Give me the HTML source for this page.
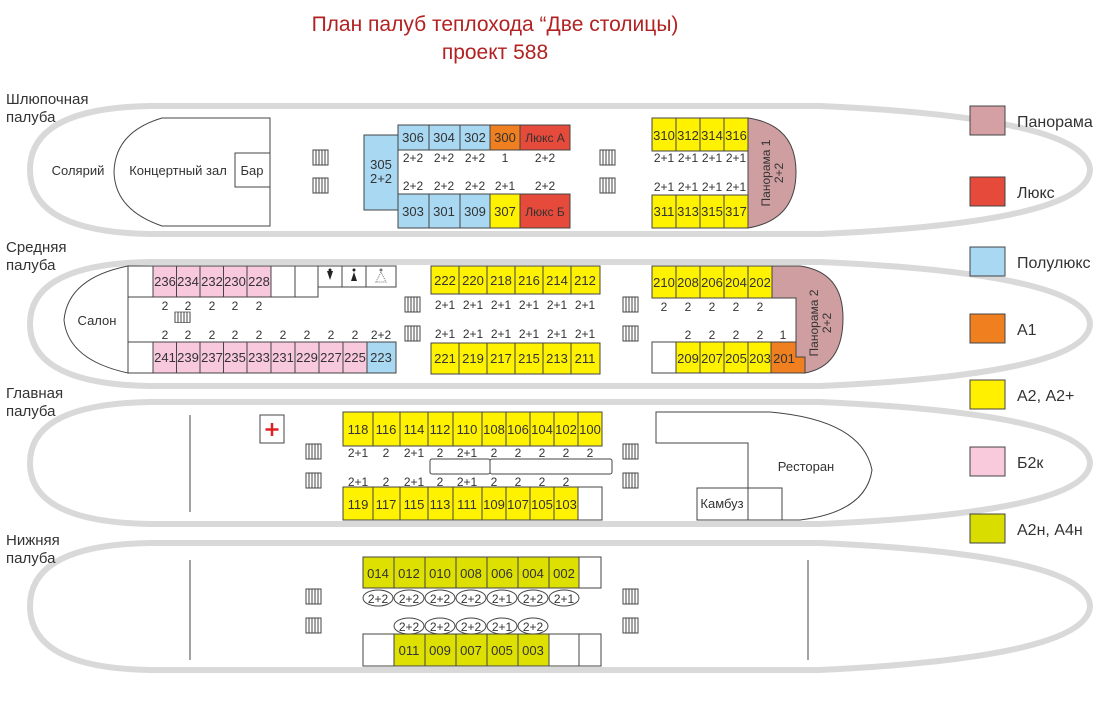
<!DOCTYPE html>
<html><head><meta charset="utf-8"><style>
html,body{margin:0;padding:0;background:#fff}
svg{display:block}
text{font-family:"Liberation Sans",sans-serif;fill:#333}
.c{font-size:13px;text-anchor:middle}
.s{font-size:12px;text-anchor:middle}
.l{font-size:15px;fill:#333}
.g{font-size:16px;fill:#333}
</style></head><body>
<svg width="1111" height="706" viewBox="0 0 1111 706" xmlns="http://www.w3.org/2000/svg">
<defs>
<g id="st"><rect x="0" y="0" width="15" height="15" fill="#fff" stroke="#444" stroke-width="1"/><path d="M3 0V15M6 0V15M9 0V15M12 0V15" stroke="#444" stroke-width="1"/></g>
</defs>
<text x="495" y="31" style="font-size:21px;fill:#b22222;text-anchor:middle">План палуб теплохода “Две столицы)</text>
<text x="495" y="59" style="font-size:21px;fill:#b22222;text-anchor:middle">проект 588</text>

<!-- hulls -->
<g fill="#fff" stroke="#d9d9d9" stroke-width="6">
<path d="M150 106 L820 106 Q1088 118 1090 170 Q1088 222 820 234 L150 234 Q30 232 30 170 Q30 108 150 106Z"/>
<path d="M150 262 L820 262 Q1088 274 1090 324 Q1088 374 820 386 L150 386 Q30 384 30 324 Q30 264 150 262Z"/>
<path d="M150 402 L820 402 Q1088 414 1090 463 Q1088 512 820 524 L150 524 Q30 522 30 463 Q30 404 150 402Z"/>
<path d="M150 543 L820 543 Q1088 555 1090 606 Q1088 657 820 670 L150 670 Q30 668 30 606 Q30 545 150 543Z"/>
</g>
<text class="l" x="6" y="104">Шлюпочная</text><text class="l" x="6" y="122">палуба</text>
<text class="l" x="6" y="252">Средняя</text><text class="l" x="6" y="270">палуба</text>
<text class="l" x="6" y="398">Главная</text><text class="l" x="6" y="416">палуба</text>
<text class="l" x="6" y="545">Нижняя</text><text class="l" x="6" y="563">палуба</text>

<g stroke="#444" stroke-width="1">
<!-- DECK 1 -->
<path d="M162 118 L270 118 L270 226 L162 226 Q115 210 114 172 Q115 132 162 118Z" fill="#fff"/>
<rect x="235" y="153" width="35" height="34" fill="#fff"/>
<rect x="364" y="135" width="34" height="75" fill="#a9d8f2"/>
<rect x="398" y="125" width="31" height="25" fill="#a9d8f2"/>
<rect x="429" y="125" width="31" height="25" fill="#a9d8f2"/>
<rect x="460" y="125" width="30" height="25" fill="#a9d8f2"/>
<rect x="490" y="125" width="30" height="25" fill="#f07f1f"/>
<rect x="520" y="125" width="50" height="25" fill="#e54a3a"/>
<rect x="398" y="194" width="31" height="34" fill="#a9d8f2"/>
<rect x="429" y="194" width="31" height="34" fill="#a9d8f2"/>
<rect x="460" y="194" width="30" height="34" fill="#a9d8f2"/>
<rect x="490" y="194" width="30" height="34" fill="#fff200"/>
<rect x="520" y="194" width="50" height="34" fill="#e54a3a"/>
<path d="M748 118 Q796 125 796 172 Q796 220 748 228Z" fill="#cf9ea0"/>
<rect x="652" y="118" width="24" height="33" fill="#fff200"/>
<rect x="676" y="118" width="24" height="33" fill="#fff200"/>
<rect x="700" y="118" width="24" height="33" fill="#fff200"/>
<rect x="724" y="118" width="24" height="33" fill="#fff200"/>
<rect x="652" y="195" width="24" height="33" fill="#fff200"/>
<rect x="676" y="195" width="24" height="33" fill="#fff200"/>
<rect x="700" y="195" width="24" height="33" fill="#fff200"/>
<rect x="724" y="195" width="24" height="33" fill="#fff200"/>

<!-- DECK 2 -->
<path d="M128 266 L128 373 Q68 360 64 320 Q68 278 128 266Z" fill="#fff"/>
<rect x="128" y="266" width="25" height="31" fill="#fff"/>
<rect x="153" y="266" width="23.5" height="31" fill="#f8c8dc"/>
<rect x="176.5" y="266" width="23.5" height="31" fill="#f8c8dc"/>
<rect x="200" y="266" width="23.5" height="31" fill="#f8c8dc"/>
<rect x="223.5" y="266" width="23.5" height="31" fill="#f8c8dc"/>
<rect x="247" y="266" width="24" height="31" fill="#f8c8dc"/>
<rect x="271" y="266" width="24" height="31" fill="#fff"/>
<rect x="295" y="266" width="23" height="31" fill="#fff"/>
<rect x="318" y="266" width="24" height="21" fill="#fff"/>
<rect x="342" y="266" width="24" height="21" fill="#fff"/>
<rect x="366" y="266" width="30" height="21" fill="#fff"/>
<rect x="128" y="342" width="25" height="31" fill="#fff"/>
<rect x="153" y="342" width="23.5" height="31" fill="#f8c8dc"/>
<rect x="176.5" y="342" width="23.5" height="31" fill="#f8c8dc"/>
<rect x="200" y="342" width="23.5" height="31" fill="#f8c8dc"/>
<rect x="223.5" y="342" width="23.5" height="31" fill="#f8c8dc"/>
<rect x="247" y="342" width="24" height="31" fill="#f8c8dc"/>
<rect x="271" y="342" width="24" height="31" fill="#f8c8dc"/>
<rect x="295" y="342" width="24" height="31" fill="#f8c8dc"/>
<rect x="319" y="342" width="24" height="31" fill="#f8c8dc"/>
<rect x="343" y="342" width="24" height="31" fill="#f8c8dc"/>
<rect x="367" y="342" width="29" height="31" fill="#a9d8f2"/>
<rect x="431" y="266" width="28" height="28" fill="#fff200"/>
<rect x="459" y="266" width="28" height="28" fill="#fff200"/>
<rect x="487" y="266" width="28" height="28" fill="#fff200"/>
<rect x="515" y="266" width="28" height="28" fill="#fff200"/>
<rect x="543" y="266" width="28" height="28" fill="#fff200"/>
<rect x="571" y="266" width="29" height="28" fill="#fff200"/>
<rect x="431" y="343" width="28" height="31" fill="#fff200"/>
<rect x="459" y="343" width="28" height="31" fill="#fff200"/>
<rect x="487" y="343" width="28" height="31" fill="#fff200"/>
<rect x="515" y="343" width="28" height="31" fill="#fff200"/>
<rect x="543" y="343" width="28" height="31" fill="#fff200"/>
<rect x="571" y="343" width="29" height="31" fill="#fff200"/>
<path d="M772 266 L800 266 Q843 272 843 318 Q843 366 805 373 L805 357 L796 357 L796 298 L772 298Z" fill="#cf9ea0"/>
<path d="M771 342 L796 342 L796 357 L805 357 L805 373 L771 373Z" fill="#f07f1f"/>
<rect x="652" y="266" width="24" height="32" fill="#fff200"/>
<rect x="676" y="266" width="24" height="32" fill="#fff200"/>
<rect x="700" y="266" width="24" height="32" fill="#fff200"/>
<rect x="724" y="266" width="24" height="32" fill="#fff200"/>
<rect x="748" y="266" width="24" height="32" fill="#fff200"/>
<rect x="652" y="342" width="24" height="31" fill="#fff"/>
<rect x="676" y="342" width="24" height="31" fill="#fff200"/>
<rect x="700" y="342" width="24" height="31" fill="#fff200"/>
<rect x="724" y="342" width="24" height="31" fill="#fff200"/>
<rect x="748" y="342" width="23" height="31" fill="#fff200"/>

<!-- DECK 3 -->
<path d="M190 415V512" fill="none"/>
<rect x="260" y="415" width="24" height="28" fill="#fff"/>
<rect x="343" y="412" width="30" height="34" fill="#fff200"/>
<rect x="373" y="412" width="27" height="34" fill="#fff200"/>
<rect x="400" y="412" width="28" height="34" fill="#fff200"/>
<rect x="428" y="412" width="25" height="34" fill="#fff200"/>
<rect x="453" y="412" width="29" height="34" fill="#fff200"/>
<rect x="482" y="412" width="24" height="34" fill="#fff200"/>
<rect x="506" y="412" width="24" height="34" fill="#fff200"/>
<rect x="530" y="412" width="24" height="34" fill="#fff200"/>
<rect x="554" y="412" width="24" height="34" fill="#fff200"/>
<rect x="578" y="412" width="24" height="34" fill="#fff200"/>
<rect x="430" y="459" width="60" height="15" rx="2" fill="#fff"/>
<rect x="490" y="459" width="122" height="15" rx="2" fill="#fff"/>
<rect x="343" y="487" width="30" height="33" fill="#fff200"/>
<rect x="373" y="487" width="27" height="33" fill="#fff200"/>
<rect x="400" y="487" width="28" height="33" fill="#fff200"/>
<rect x="428" y="487" width="25" height="33" fill="#fff200"/>
<rect x="453" y="487" width="29" height="33" fill="#fff200"/>
<rect x="482" y="487" width="24" height="33" fill="#fff200"/>
<rect x="506" y="487" width="24" height="33" fill="#fff200"/>
<rect x="530" y="487" width="24" height="33" fill="#fff200"/>
<rect x="554" y="487" width="24" height="33" fill="#fff200"/>
<rect x="578" y="487" width="24" height="33" fill="#fff"/>
<path d="M656 412 L770 412 Q862 420 872 470 Q866 512 800 520 L748 520 L748 443 L656 443Z" fill="#fff"/>
<rect x="697" y="488" width="51" height="32" fill="#fff"/>
<rect x="748" y="488" width="34" height="32" fill="#fff"/>

<!-- DECK 4 -->
<path d="M190 560V660M808 560V660" fill="none"/>
<rect x="363" y="557" width="31" height="31" fill="#dde000"/>
<rect x="394" y="557" width="31" height="31" fill="#dde000"/>
<rect x="425" y="557" width="31" height="31" fill="#dde000"/>
<rect x="456" y="557" width="31" height="31" fill="#dde000"/>
<rect x="487" y="557" width="31" height="31" fill="#dde000"/>
<rect x="518" y="557" width="31" height="31" fill="#dde000"/>
<rect x="549" y="557" width="30" height="31" fill="#dde000"/>
<rect x="579" y="557" width="22" height="31" fill="#fff"/>
<rect x="363" y="634" width="31" height="32" fill="#fff"/>
<rect x="394" y="634" width="31" height="32" fill="#dde000"/>
<rect x="425" y="634" width="31" height="32" fill="#dde000"/>
<rect x="456" y="634" width="31" height="32" fill="#dde000"/>
<rect x="487" y="634" width="31" height="32" fill="#dde000"/>
<rect x="518" y="634" width="31" height="32" fill="#dde000"/>
<rect x="549" y="634" width="30" height="32" fill="#fff"/>
<rect x="579" y="634" width="22" height="32" fill="#fff"/>
<g fill="none">
<ellipse cx="378" cy="598" rx="15" ry="8"/><ellipse cx="409" cy="598" rx="15" ry="8"/><ellipse cx="440" cy="598" rx="15" ry="8"/><ellipse cx="471" cy="598" rx="15" ry="8"/><ellipse cx="502" cy="598" rx="15" ry="8"/><ellipse cx="533" cy="598" rx="15" ry="8"/><ellipse cx="564" cy="598" rx="15" ry="8"/>
<ellipse cx="409" cy="626" rx="15" ry="8"/><ellipse cx="440" cy="626" rx="15" ry="8"/><ellipse cx="471" cy="626" rx="15" ry="8"/><ellipse cx="502" cy="626" rx="15" ry="8"/><ellipse cx="533" cy="626" rx="15" ry="8"/>
</g>

<!-- legend -->
<rect x="970" y="106" width="35" height="29" fill="#d4a0a4"/>
<rect x="970" y="177" width="35" height="29" fill="#e54a3a"/>
<rect x="970" y="247" width="35" height="29" fill="#a9d8f2"/>
<rect x="970" y="314" width="35" height="29" fill="#f07f1f"/>
<rect x="970" y="380" width="35" height="29" fill="#fff000"/>
<rect x="970" y="447" width="35" height="29" fill="#f9c9dc"/>
<rect x="970" y="514" width="35" height="29" fill="#d9dd00"/>
</g>

<!-- stairs -->
<use href="#st" x="313" y="150"/><use href="#st" x="313" y="178"/>
<use href="#st" x="600" y="150"/><use href="#st" x="600" y="178"/>
<use href="#st" x="405" y="297"/><use href="#st" x="405" y="326"/>
<use href="#st" x="623" y="297"/><use href="#st" x="623" y="326"/>
<g transform="translate(175 312) scale(1 0.7)"><use href="#st"/></g>
<use href="#st" x="306" y="444"/><use href="#st" x="306" y="473"/>
<use href="#st" x="623" y="444"/><use href="#st" x="623" y="473"/>
<use href="#st" x="306" y="589"/><use href="#st" x="306" y="618"/>
<use href="#st" x="623" y="589"/><use href="#st" x="623" y="618"/>

<!-- cross & wc icons -->
<path d="M272 423V436M265.5 429.5H278.5" stroke="#e02020" stroke-width="2.5"/>
<path d="M327 271h6l-3 9z" fill="#222"/><circle cx="330" cy="270" r="1.5" fill="#222"/>
<path d="M351 281l3-9 3 9z" fill="#222"/><circle cx="354" cy="270" r="1.5" fill="#222"/>
<path d="M376 282l5-10 5 10z" fill="none" stroke="#777" stroke-dasharray="1 1"/><circle cx="381" cy="270" r="1.5" fill="#777"/>

<!-- deck 1 text -->
<text class="c" x="78" y="175">Солярий</text>
<text class="c" x="178" y="175">Концертный зал</text>
<text class="c" x="252" y="175">Бар</text>
<text class="c" x="381" y="169">305</text><text class="c" x="381" y="183">2+2</text>
<text class="c" x="413" y="142">306</text><text class="c" x="444" y="142">304</text><text class="c" x="475" y="142">302</text><text class="c" x="505" y="142">300</text><text class="c" x="545" y="142" style="font-size:12px">Люкс А</text>
<text class="s" x="413" y="162">2+2</text><text class="s" x="444" y="162">2+2</text><text class="s" x="475" y="162">2+2</text><text class="s" x="505" y="162">1</text><text class="s" x="545" y="162">2+2</text>
<text class="s" x="413" y="190">2+2</text><text class="s" x="444" y="190">2+2</text><text class="s" x="475" y="190">2+2</text><text class="s" x="505" y="190">2+1</text><text class="s" x="545" y="190">2+2</text>
<text class="c" x="413" y="216">303</text><text class="c" x="444" y="216">301</text><text class="c" x="475" y="216">309</text><text class="c" x="505" y="216">307</text><text class="c" x="545" y="216" style="font-size:12px">Люкс Б</text>
<text class="c" x="664" y="140">310</text><text class="c" x="688" y="140">312</text><text class="c" x="712" y="140">314</text><text class="c" x="736" y="140">316</text>
<text class="s" x="664" y="162">2+1</text><text class="s" x="688" y="162">2+1</text><text class="s" x="712" y="162">2+1</text><text class="s" x="736" y="162">2+1</text>
<text class="s" x="664" y="191">2+1</text><text class="s" x="688" y="191">2+1</text><text class="s" x="712" y="191">2+1</text><text class="s" x="736" y="191">2+1</text>
<text class="c" x="664" y="216">311</text><text class="c" x="688" y="216">313</text><text class="c" x="712" y="216">315</text><text class="c" x="736" y="216">317</text>
<g transform="translate(770 173) rotate(-90)"><text class="s" x="0" y="0">Панорама 1</text><text class="s" x="0" y="13">2+2</text></g>

<!-- deck 2 text -->
<text class="c" x="97" y="325">Салон</text>
<text class="c" x="165" y="286">236</text><text class="c" x="188" y="286">234</text><text class="c" x="212" y="286">232</text><text class="c" x="235" y="286">230</text><text class="c" x="259" y="286">228</text>
<text class="s" x="165" y="310">2</text><text class="s" x="188" y="310">2</text><text class="s" x="212" y="310">2</text><text class="s" x="235" y="310">2</text><text class="s" x="259" y="310">2</text>
<text class="s" x="165" y="339">2</text><text class="s" x="188" y="339">2</text><text class="s" x="212" y="339">2</text><text class="s" x="235" y="339">2</text><text class="s" x="259" y="339">2</text><text class="s" x="283" y="339">2</text><text class="s" x="307" y="339">2</text><text class="s" x="331" y="339">2</text><text class="s" x="355" y="339">2</text><text class="s" x="381" y="339">2+2</text>
<text class="c" x="165" y="362">241</text><text class="c" x="188" y="362">239</text><text class="c" x="212" y="362">237</text><text class="c" x="235" y="362">235</text><text class="c" x="259" y="362">233</text><text class="c" x="283" y="362">231</text><text class="c" x="307" y="362">229</text><text class="c" x="331" y="362">227</text><text class="c" x="355" y="362">225</text><text class="c" x="381" y="362">223</text>
<text class="c" x="445" y="285">222</text><text class="c" x="473" y="285">220</text><text class="c" x="501" y="285">218</text><text class="c" x="529" y="285">216</text><text class="c" x="557" y="285">214</text><text class="c" x="585" y="285">212</text>
<text class="s" x="445" y="309">2+1</text><text class="s" x="473" y="309">2+1</text><text class="s" x="501" y="309">2+1</text><text class="s" x="529" y="309">2+1</text><text class="s" x="557" y="309">2+1</text><text class="s" x="585" y="309">2+1</text>
<text class="s" x="445" y="338">2+1</text><text class="s" x="473" y="338">2+1</text><text class="s" x="501" y="338">2+1</text><text class="s" x="529" y="338">2+1</text><text class="s" x="557" y="338">2+1</text><text class="s" x="585" y="338">2+1</text>
<text class="c" x="445" y="363">221</text><text class="c" x="473" y="363">219</text><text class="c" x="501" y="363">217</text><text class="c" x="529" y="363">215</text><text class="c" x="557" y="363">213</text><text class="c" x="585" y="363">211</text>
<text class="c" x="664" y="287">210</text><text class="c" x="688" y="287">208</text><text class="c" x="712" y="287">206</text><text class="c" x="736" y="287">204</text><text class="c" x="760" y="287">202</text>
<text class="s" x="664" y="311">2</text><text class="s" x="688" y="311">2</text><text class="s" x="712" y="311">2</text><text class="s" x="736" y="311">2</text><text class="s" x="760" y="311">2</text>
<text class="s" x="688" y="339">2</text><text class="s" x="712" y="339">2</text><text class="s" x="736" y="339">2</text><text class="s" x="760" y="339">2</text><text class="s" x="783" y="339">1</text>
<text class="c" x="688" y="363">209</text><text class="c" x="712" y="363">207</text><text class="c" x="736" y="363">205</text><text class="c" x="760" y="363">203</text><text class="c" x="784" y="363">201</text>
<g transform="translate(818 323) rotate(-90)"><text class="s" x="0" y="0">Панорама 2</text><text class="s" x="0" y="13">2+2</text></g>

<!-- deck 3 text -->
<text class="c" x="358" y="434">118</text><text class="c" x="386" y="434">116</text><text class="c" x="414" y="434">114</text><text class="c" x="440" y="434">112</text><text class="c" x="467" y="434">110</text><text class="c" x="494" y="434">108</text><text class="c" x="518" y="434">106</text><text class="c" x="542" y="434">104</text><text class="c" x="566" y="434">102</text><text class="c" x="590" y="434">100</text>
<text class="s" x="358" y="457">2+1</text><text class="s" x="386" y="457">2</text><text class="s" x="414" y="457">2+1</text><text class="s" x="440" y="457">2</text><text class="s" x="467" y="457">2+1</text><text class="s" x="494" y="457">2</text><text class="s" x="518" y="457">2</text><text class="s" x="542" y="457">2</text><text class="s" x="566" y="457">2</text><text class="s" x="590" y="457">2</text>
<text class="s" x="358" y="486">2+1</text><text class="s" x="386" y="486">2</text><text class="s" x="414" y="486">2+1</text><text class="s" x="440" y="486">2</text><text class="s" x="467" y="486">2+1</text><text class="s" x="494" y="486">2</text><text class="s" x="518" y="486">2</text><text class="s" x="542" y="486">2</text><text class="s" x="566" y="486">2</text>
<text class="c" x="358" y="509">119</text><text class="c" x="386" y="509">117</text><text class="c" x="414" y="509">115</text><text class="c" x="440" y="509">113</text><text class="c" x="467" y="509">111</text><text class="c" x="494" y="509">109</text><text class="c" x="518" y="509">107</text><text class="c" x="542" y="509">105</text><text class="c" x="566" y="509">103</text>
<text class="c" x="806" y="471">Ресторан</text>
<text class="c" x="722" y="508">Камбуз</text>

<!-- deck 4 text -->
<text class="c" x="378" y="578">014</text><text class="c" x="409" y="578">012</text><text class="c" x="440" y="578">010</text><text class="c" x="471" y="578">008</text><text class="c" x="502" y="578">006</text><text class="c" x="533" y="578">004</text><text class="c" x="564" y="578">002</text>
<text class="s" x="378" y="603">2+2</text><text class="s" x="409" y="603">2+2</text><text class="s" x="440" y="603">2+2</text><text class="s" x="471" y="603">2+2</text><text class="s" x="502" y="603">2+1</text><text class="s" x="533" y="603">2+2</text><text class="s" x="564" y="603">2+1</text>
<text class="s" x="409" y="631">2+2</text><text class="s" x="440" y="631">2+2</text><text class="s" x="471" y="631">2+2</text><text class="s" x="502" y="631">2+1</text><text class="s" x="533" y="631">2+2</text>
<text class="c" x="409" y="655">011</text><text class="c" x="440" y="655">009</text><text class="c" x="471" y="655">007</text><text class="c" x="502" y="655">005</text><text class="c" x="533" y="655">003</text>

<!-- legend text -->
<text class="g" x="1017" y="127">Панорама</text>
<text class="g" x="1017" y="198">Люкс</text>
<text class="g" x="1017" y="268">Полулюкс</text>
<text class="g" x="1017" y="335">А1</text>
<text class="g" x="1017" y="401">А2, А2+</text>
<text class="g" x="1017" y="468">Б2к</text>
<text class="g" x="1017" y="535">А2н, А4н</text>
</svg>
</body></html>
